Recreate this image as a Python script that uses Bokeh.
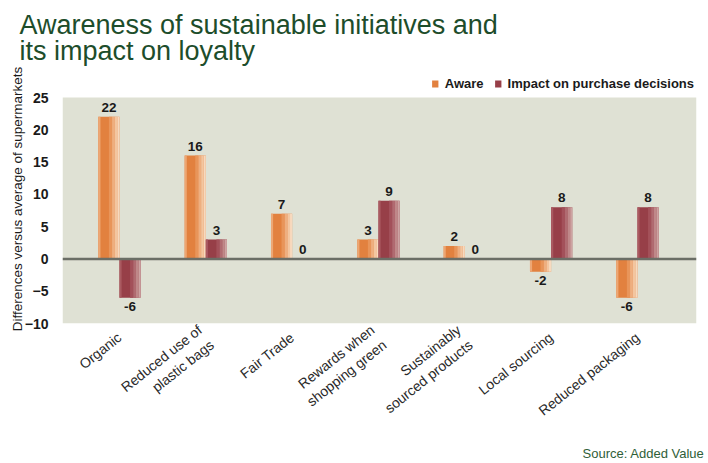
import numpy as np
from bokeh.plotting import figure
from bokeh.models import (Range1d, FixedTicker, Span, Legend, LegendItem, Title,
                          ColumnDataSource, LabelSet, BoxAnnotation)
from bokeh.core.properties import value
from bokeh.embed import file_html
from bokeh.resources import INLINE

# ---------------- data ----------------
categories = ["Organic", "Reduced use of\nplastic bags", "Fair Trade",
              "Rewards when\nshopping green", "Sustainably\nsourced products",
              "Local sourcing", "Reduced packaging"]
aware = [22, 16, 7, 3, 2, -2, -6]
impact = [-6, 3, 0, 9, 0, 8, 8]
y_ticks = [-10, -5, 0, 5, 10, 15, 20, 25]
series_names = ["Aware", "Impact on purchase decisions"]
title_lines = ["Awareness of sustainable initiatives and", "its impact on loyalty"]
y_label = "Differences versus average of supermarkets"
source_note = "Source: Added Value"

# ---------------- style ----------------
FONT = "Liberation Sans"
BG = "#DFE1D4"
TITLE_GREEN = "#1D4D2B"
SOURCE_GREEN = "#2F5E38"
BW = 0.245
aware_base = "#E2813F"
impact_base = "#973F48"
aware_strips = [(0.0, 0.10, "#EDA774"), (0.50, 0.65, "#E8955A"), (0.65, 0.78, "#EEAF80"),
                (0.78, 0.90, "#F3C6A0"), (0.90, 1.0, "#F7D9BE")]
impact_strips = [(0.0, 0.10, "#AA5A61"), (0.50, 0.65, "#A3515A"), (0.65, 0.78, "#B06B71"),
                 (0.78, 0.90, "#BF8889"), (0.90, 1.0, "#CDA3A2")]

Y_MIN, Y_MAX = -10, 25          # value axis (shaded area)
PLOT_H = 226                    # px of the shaded value area
LEGEND_STRIP = 23               # px of white strip above it holding the legend
px_per_unit = PLOT_H / (Y_MAX - Y_MIN)
y_top = Y_MAX + LEGEND_STRIP / px_per_unit

pos = np.arange(len(categories))

p = figure(frame_width=634, frame_height=PLOT_H + LEGEND_STRIP,
           output_backend="svg", toolbar_location=None,
           x_range=Range1d(-0.660, 6.684), y_range=Range1d(Y_MIN, y_top),
           min_border_left=62, min_border_right=8, min_border_top=74, min_border_bottom=138,
           background_fill_color="white", border_fill_color="white", outline_line_color=None,
           title=title_lines[0])
p.grid.visible = False

p.add_layout(BoxAnnotation(bottom=Y_MIN, top=Y_MAX, fill_color=BG, fill_alpha=1,
                           line_color=None, level="underlay"))


def style_title(t, standoff, valign):
    t.text_font = FONT
    t.text_font_size = "27px"
    t.text_font_style = "normal"
    t.text_color = TITLE_GREEN
    t.align = "left"
    t.vertical_align = valign
    t.offset = -43
    t.standoff = standoff


style_title(p.title, -20, "bottom")
t2 = Title(text=title_lines[1])
style_title(t2, 12.8, "top")
p.add_layout(t2, "above")

renderers = []
for vals, off, base, strips in [(aware, -BW / 2, aware_base, aware_strips),
                                (impact, BW / 2, impact_base, impact_strips)]:
    src = ColumnDataSource(dict(x=pos + off, top=vals))
    r = p.vbar(x="x", top="top", bottom=0, width=BW, source=src,
               fill_color=base, line_color=None)
    renderers.append(r)
    for f0, f1, c in strips:
        s = ColumnDataSource(dict(x=pos + off - BW / 2 + (f0 + f1) / 2 * BW, top=vals))
        p.vbar(x="x", top="top", bottom=0, width=(f1 - f0) * BW, source=s,
               fill_color=c, line_color=None)

    lab = ColumnDataSource(dict(
        x=pos + off, y=vals, text=[str(v) for v in vals],
        base=["bottom" if v >= 0 else "top" for v in vals],
        yo=[5 if v >= 0 else -4 for v in vals]))
    p.add_layout(LabelSet(x="x", y="y", text="text", source=lab, y_offset="yo",
                          text_baseline="base", text_align="center",
                          text_font=value(FONT), text_font_size="13.5px",
                          text_font_style="bold", text_color="#1a1a1a"))

p.add_layout(Span(location=0, dimension="width", line_color="#6B6E66", line_width=2.5))

legend = Legend(items=[LegendItem(label=series_names[0], renderers=[renderers[0]]),
                       LegendItem(label=series_names[1], renderers=[renderers[1]])],
                orientation="horizontal", location="top_right",
                glyph_width=8, glyph_height=9, label_standoff=6, spacing=10,
                padding=0, margin=2, border_line_color=None, background_fill_alpha=0,
                label_text_font=FONT, label_text_font_size="13px",
                label_text_font_style="bold", label_text_color="#1a1a1a")
p.add_layout(legend)

# y axis
p.yaxis.ticker = FixedTicker(ticks=y_ticks)
p.yaxis.axis_label = y_label
p.yaxis.axis_label_text_font = FONT
p.yaxis.axis_label_text_font_size = "13.5px"
p.yaxis.axis_label_text_font_style = "normal"
p.yaxis.axis_label_text_color = "#1a1a1a"
p.yaxis.axis_label_standoff = -3
p.yaxis.major_label_text_font = FONT
p.yaxis.major_label_text_font_size = "14px"
p.yaxis.major_label_text_font_style = "bold"
p.yaxis.major_label_text_color = "#1a1a1a"
p.yaxis.major_label_standoff = 14
p.yaxis.axis_line_color = None
p.yaxis.major_tick_line_color = None
p.yaxis.minor_tick_line_color = None
p.yaxis.major_tick_out = 0
p.yaxis.major_tick_in = 0
p.yaxis.minor_tick_out = 0

# x axis
p.xaxis.ticker = FixedTicker(ticks=[int(i) for i in pos])
p.xaxis.major_label_overrides = {int(i): c for i, c in zip(pos, categories)}
p.xaxis.major_label_orientation = 0.67
p.xaxis.major_label_text_font = FONT
p.xaxis.major_label_text_font_size = "14px"
p.xaxis.major_label_text_color = "#2a2a2a"
p.xaxis.major_label_standoff = 12
p.xaxis.axis_line_color = None
p.xaxis.major_tick_line_color = None
p.xaxis.minor_tick_line_color = None
p.xaxis.major_tick_out = 0
p.xaxis.major_tick_in = 0
p.xaxis.minor_tick_out = 0

src_title = Title(text=source_note, align="right", text_font=FONT, text_font_size="13px",
                  text_font_style="normal", text_color=SOURCE_GREEN, offset=-8, standoff=22)
p.add_layout(src_title, "below")

open("out.html", "w").write(file_html(p, INLINE))
